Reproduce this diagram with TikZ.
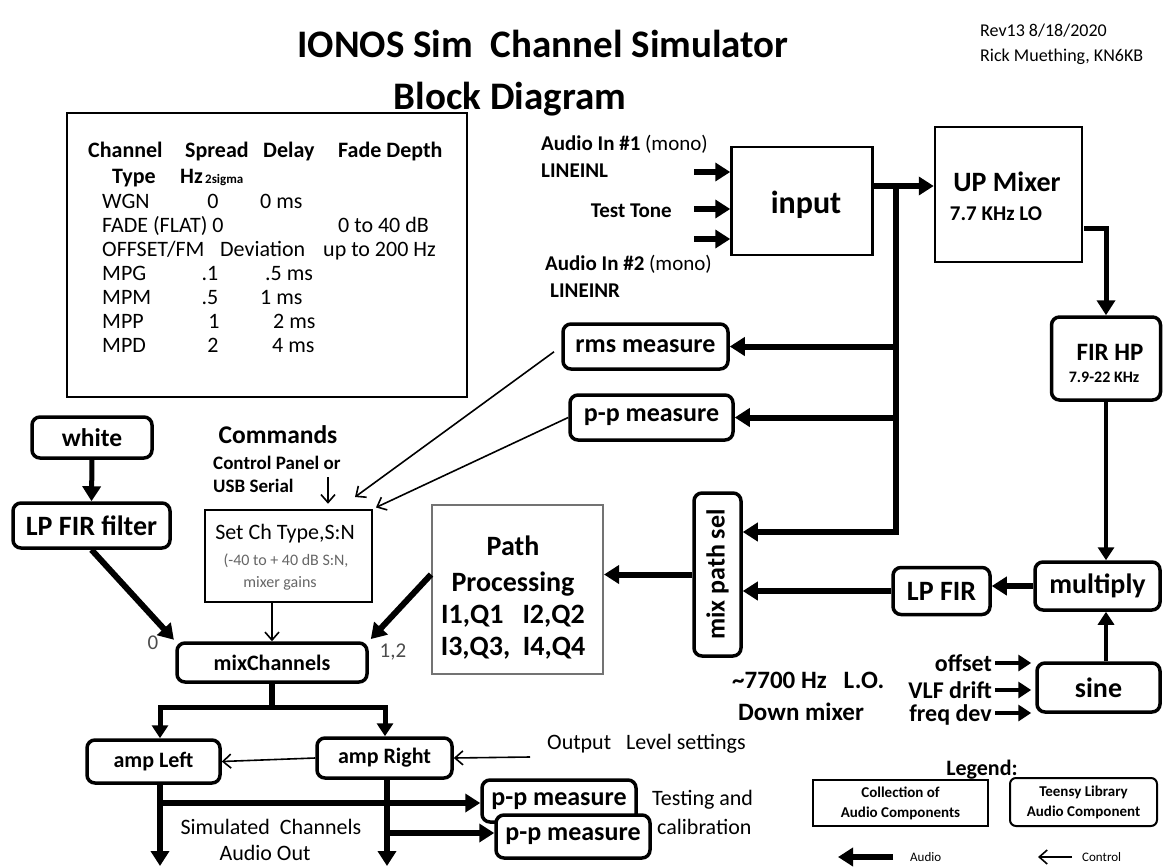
\documentclass[tikz,border=0pt]{standalone}
\usepackage{fontspec}
\setmainfont{Carlito}
\usepackage{graphicx}
\usetikzlibrary{arrows.meta}

\newcommand{\fsz}[2]{\fontsize{#1}{#2}\selectfont}

\begin{document}
\begin{tikzpicture}[x=1pt, y=-1pt, line join=miter,
  >={Triangle[length=15pt,width=18pt]},
  box/.style={draw, line width=2.5pt, fill=white, inner sep=0pt},
  lib/.style={box, line width=3.5pt, rounded corners=8pt, font=\bfseries\fsz{26}{30}},
  lbl/.style={inner sep=0pt, anchor=base, font=\bfseries\fsz{25}{30}},
  plain/.style={inner sep=0pt, anchor=base, font=\fsz{22}{26}},
  audio/.style={line width=6pt, ->},
  audiomid/.style={line width=4.5pt, -{Triangle[length=13pt,width=16pt]}},
  ctrl/.style={line width=1.6pt, -{Straight Barb[length=8pt,width=14pt]}}]
\useasboundingbox (0,0) rectangle (1164,867);

% title and revision
\node[lbl, font=\bfseries\fsz{39}{44}] (title) at (543,58) {IONOS Sim\ \ Channel Simulator};
\node[lbl, font=\bfseries\fsz{39}{44}] (subtitle) at (510,109) {Block Diagram};
\node[plain, anchor=base west, font=\fsz{18}{22}] (rev) at (980,37) {Rev13 8/18/2020};
\node[plain, anchor=base west, font=\fsz{18}{22}] (author) at (980,62) {Rick Muething, KN6KB};

% channel type table
\node[box, minimum width=400, minimum height=284] (chtable) at (267,255) {};
\node[lbl, anchor=base west, font=\bfseries\fsz{22}{26}] (hchannel) at (88,157) {Channel};
\node[lbl, anchor=base west, font=\bfseries\fsz{22}{26}] (hspread) at (185,157) {Spread};
\node[lbl, anchor=base west, font=\bfseries\fsz{22}{26}] (hdelay) at (263,157) {Delay};
\node[lbl, anchor=base west, font=\bfseries\fsz{22}{26}] (hdepth) at (338,157) {Fade Depth};
\node[lbl, anchor=base west, font=\bfseries\fsz{22}{26}] (htype) at (112,183) {Type};
\node[lbl, anchor=base west, font=\bfseries\fsz{22}{26}] (hhz) at (180,183) {Hz};
\node[lbl, anchor=base west, font=\bfseries\fsz{13}{15}] (hsigma) at (205,183) {2sigma};
\foreach \y/\name/\spread/\sx/\delay/\dx in {
208/WGN/0/213/0 ms/260,
280/MPG/.1/210/.5 ms/265,
304/MPM/.5/210/1 ms/260,
328/MPP/1/214/2 ms/273,
352/MPD/2/213/4 ms/272} {
\node[plain, anchor=base west] (\name) at (102,\y) {\name};
\node[plain] (\name-s) at (\sx,\y) {\spread};
\node[plain, anchor=base west] (\name-d) at (\dx,\y) {\delay};
}
\node[plain, anchor=base west] (fade) at (102,232) {FADE (FLAT) 0};
\node[plain, anchor=base west] (fadedepth) at (338,232) {0 to 40 dB};
\node[plain, anchor=base west] (offsetfm) at (102,256) {OFFSET/FM};
\node[plain, anchor=base west] (deviation) at (220,256) {Deviation};
\node[plain, anchor=base west] (upto) at (323,256) {up to 200 Hz};

% audio inputs
\node[plain, anchor=base west, font=\fsz{21}{25}] (in1txt) at (541,150) {\textbf{Audio In \#1} (mono)};
\node[lbl, anchor=base west, font=\bfseries\fsz{21}{25}] (lineinl) at (541,177) {LINEINL};
\node[lbl, anchor=base east, font=\bfseries\fsz{21}{25}] (testtone) at (672,217) {Test Tone};
\node[plain, anchor=base west, font=\fsz{21}{25}] (in2txt) at (545,270) {\textbf{Audio In \#2} (mono)};
\node[lbl, anchor=base west, font=\bfseries\fsz{21}{25}] (lineinr) at (550,297) {LINEINR};
\node[box, minimum width=141, minimum height=108] (input) at (802,201) {};
\node[lbl, font=\bfseries\fsz{32}{36}] (inputtxt) at (806,213) {input};
\coordinate (ain1) at (694,172);
\coordinate (ain2) at (694,209);
\coordinate (ain3) at (694,239);
\foreach \a in {ain1,ain2,ain3}
\draw[audio] (\a) -- (\a -| input.west);

% up mixer and high pass
\node[box, minimum width=147, minimum height=135] (upmix) at (1008.5,194.5) {};
\node[lbl, font=\bfseries\fsz{28}{32}] (upmixtxt) at (1007,191) {UP Mixer};
\node[lbl, font=\bfseries\fsz{21}{25}] (lotxt) at (996,220) {7.7 KHz LO};
\node[lib, minimum width=109, minimum height=83] (fir) at (1106,358.5) {};
\node[lbl] (firtxt) at (1110,360) {FIR HP};
\node[lbl, font=\bfseries\fsz{16}{18}] (firband) at (1104,382) {7.9-22 KHz};
\coordinate (bustop) at (896,186);
\coordinate (busbot) at (896,532);
\coordinate (upout) at (1084,228);
\draw[audio] (input.east |- bustop) -- (upmix.west |- bustop);
\draw[audio, line width=5pt] (upout) -- (upout -| fir.north) -- (fir.north);

% measure blocks on the input bus
\node[lib] (rms) at (645.5,346.5) [minimum width=165, minimum height=45] {rms measure};
\node[lib] (pp) at (651.5,417.5) [minimum width=163, minimum height=45] {p-p measure};
\node[lib, minimum width=47, minimum height=163] (mps) at (717.5,574.5) {\rotatebox{90}{mix path sel}};
\draw[audio] (bustop) -- (busbot) -- (busbot -| mps.east);
\draw[audio] (bustop |- rms.east) -- (rms.east);
\draw[audio] (bustop |- pp.east) -- (pp.east);

% down mixer
\node[lib, minimum width=125, minimum height=48, font=\bfseries\fsz{28}{32}] (mult) at (1097.5,586) {multiply};
\node[lib, minimum width=97, minimum height=47, font=\bfseries\fsz{28}{32}] (lpfir) at (941.5,591) {LP FIR};
\node[lib, minimum width=123, minimum height=49, font=\bfseries\fsz{28}{32}] (sine) at (1098.5,687.5) {sine};
\draw[audiomid, line width=4pt] (fir.south) -- (fir.south |- mult.north);
\draw[audiomid, line width=4pt] (sine.north -| fir.south) -- (fir.south |- mult.south);
\draw[audio] (mult.west) -- (mult.west -| lpfir.east);
\draw[audio] (lpfir.west) -- (lpfir.west -| mps.east);
\foreach \n/\t/\y in {offset/offset/663, vlf/VLF drift/690, freqdev/freq dev/713} {
\node[lbl, anchor=base east, font=\bfseries\fsz{24}{28}] (\n) at (992,\y+8) {\t};
\coordinate (a\n) at (995,\y);
\draw[audiomid] (a\n) -- ([xshift=-4pt]a\n -| sine.west);
}
\node[lbl, anchor=base west] (lotext) at (732,688) {\textasciitilde 7700 Hz\ \ \ L.O.};
\node[lbl, anchor=base west] (downmix) at (738,720) {Down mixer};

% path processing
\node[box, draw=black!55, line width=2pt, minimum width=171, minimum height=169] (path) at (517.5,589.5) {};
\node[lbl, anchor=center, align=center, font=\bfseries\fsz{28}{32}] (pathtxt) at (513,598) {Path\\[4pt]Processing\\I1,Q1\ \ \ I2,Q2\\I3,Q3,\ \ I4,Q4};
\draw[audio] (mps.west) -- (mps.west -| path.east);

% commands
\node[lbl, font=\bfseries\fsz{25.5}{30}] (cmds) at (278,443) {Commands};
\node[lbl, anchor=base west, font=\bfseries\fsz{19}{22}] (cpanel) at (213,469) {Control Panel or};
\node[lbl, anchor=base west, font=\bfseries\fsz{19}{22}] (usb) at (213,492) {USB Serial};
\node[box, minimum width=167, minimum height=92] (setch) at (288.5,556) {};
\node[plain] (setchtxt) at (285,539) {Set Ch Type,S:N};
\node[plain, text=black!60, font=\fsz{16}{18}] (sntxt) at (286,565) {(-40 to + 40 dB S:N,};
\node[plain, text=black!60, font=\fsz{16}{18}] (gaintxt) at (280,587) {mixer gains};
\coordinate (cmdarr) at (328,477);
\coordinate (rmsend) at (355,497);
\draw[ctrl, shorten >=5pt] (cmdarr) -- (cmdarr |- setch.north);
\draw[ctrl, shorten <=9pt] (rms.west) -- (rmsend);
\draw[ctrl, shorten >=3pt] (pp.west) -- (setch.north east);

% noise source and mixer
\node[lib, minimum width=120, minimum height=41, font=\bfseries\fsz{25.5}{30}] (white) at (92,437.5) {white};
\node[lib, minimum width=157, minimum height=45, font=\bfseries\fsz{28}{32}] (lpf) at (91.5,525.5) {LP FIR filter};
\node[lib, minimum width=190, minimum height=39, font=\bfseries\fsz{22}{26}] (mixch) at (272,662.5) {mixChannels};
\node[plain, text=black!70, font=\fsz{21}{24}] (in0) at (153,649) {0};
\node[plain, text=black!70, font=\fsz{21}{24}] (in12) at (393,657) {1,2};
\draw[audio, line width=5pt] (white.south) -- (lpf.north);
\draw[audio, shorten >=2pt] (lpf.south) -- (mixch.north west);
\draw[audio, shorten >=3pt] (path.west |- mps.west) -- (mixch.north east);
\draw[ctrl] (setch.south -| mixch.north) -- (mixch.north);

% output amps
\node[lib, minimum width=133, minimum height=43, font=\bfseries\fsz{22}{26}] (ampL) at (153.5,761.5) {amp Left};
\node[lib, minimum width=135, minimum height=40, font=\bfseries\fsz{22}{26}] (ampR) at (384.5,758) {amp Right};
\coordinate (split) at (272,707);
\coordinate (splitL) at (160,707);
\coordinate (splitR) at (385,707);
\draw[line width=6pt] (mixch.south) -- (split);
\draw[audiomid, line width=5pt] (split) -- (splitL) -- (splitL |- ampL.north);
\draw[audiomid, line width=5pt] (split) -- (splitR) -- (splitR |- ampR.north);
\node[plain, anchor=base west] (outlvl) at (547,749) {Output\ \ \ Level settings};
\coordinate (lvlarr) at (530,757);
\draw[ctrl] (lvlarr) -- (ampR.east);
\draw[ctrl] (ampR.west) -- (ampL.east);

% testing outputs
\node[lib, minimum width=154, minimum height=42] (pp1) at (559,801) {p-p measure};
\node[lib, minimum width=154, minimum height=43] (pp2) at (573,836.5) {p-p measure};
\coordinate (outL) at (160,866);
\coordinate (outR) at (387,866);
\coordinate (tapL) at (160,803);
\coordinate (tapR) at (387,833);
\draw[audio] (ampL.south -| outL) -- (outL);
\draw[audio] (ampR.south -| outR) -- (outR);
\draw[audio] (tapL) -- (tapL -| pp1.west);
\draw[audio] (tapR) -- (tapR -| pp2.west);
\node[plain] (simch) at (271,834) {Simulated\ \ Channels};
\node[plain] (audioout) at (265,860) {Audio Out};
\node[plain, anchor=base west] (testing) at (652,805) {Testing and};
\node[plain, anchor=base west] (calib) at (657,834) {calibration};

% legend
\node[lbl, font=\bfseries\fsz{22}{26}] (legend) at (982,775) {Legend:};
\node[box, line width=2pt, minimum width=175, minimum height=46, align=center, font=\bfseries\fsz{15}{20}] (legcoll) at (900.5,803) {Collection of\\Audio Components};
\node[box, line width=2pt, rounded corners=6pt, minimum width=147, minimum height=48, align=center, font=\bfseries\fsz{15}{20}] (legteensy) at (1083.5,802) {Teensy Library\\Audio Component};
\coordinate (legaud) at (893,857);
\coordinate (legaudend) at (838,857);
\coordinate (legctl) at (1072,857);
\coordinate (legctlend) at (1038,857);
\draw[audio] (legaud) -- (legaudend);
\draw[ctrl] (legctl) -- (legctlend);
\node[plain, anchor=base west, font=\fsz{13}{15}] (legaudtxt) at (910,861) {Audio};
\node[plain, anchor=base west, font=\fsz{13}{15}] (legctltxt) at (1082,861) {Control};
\end{tikzpicture}
\end{document}
